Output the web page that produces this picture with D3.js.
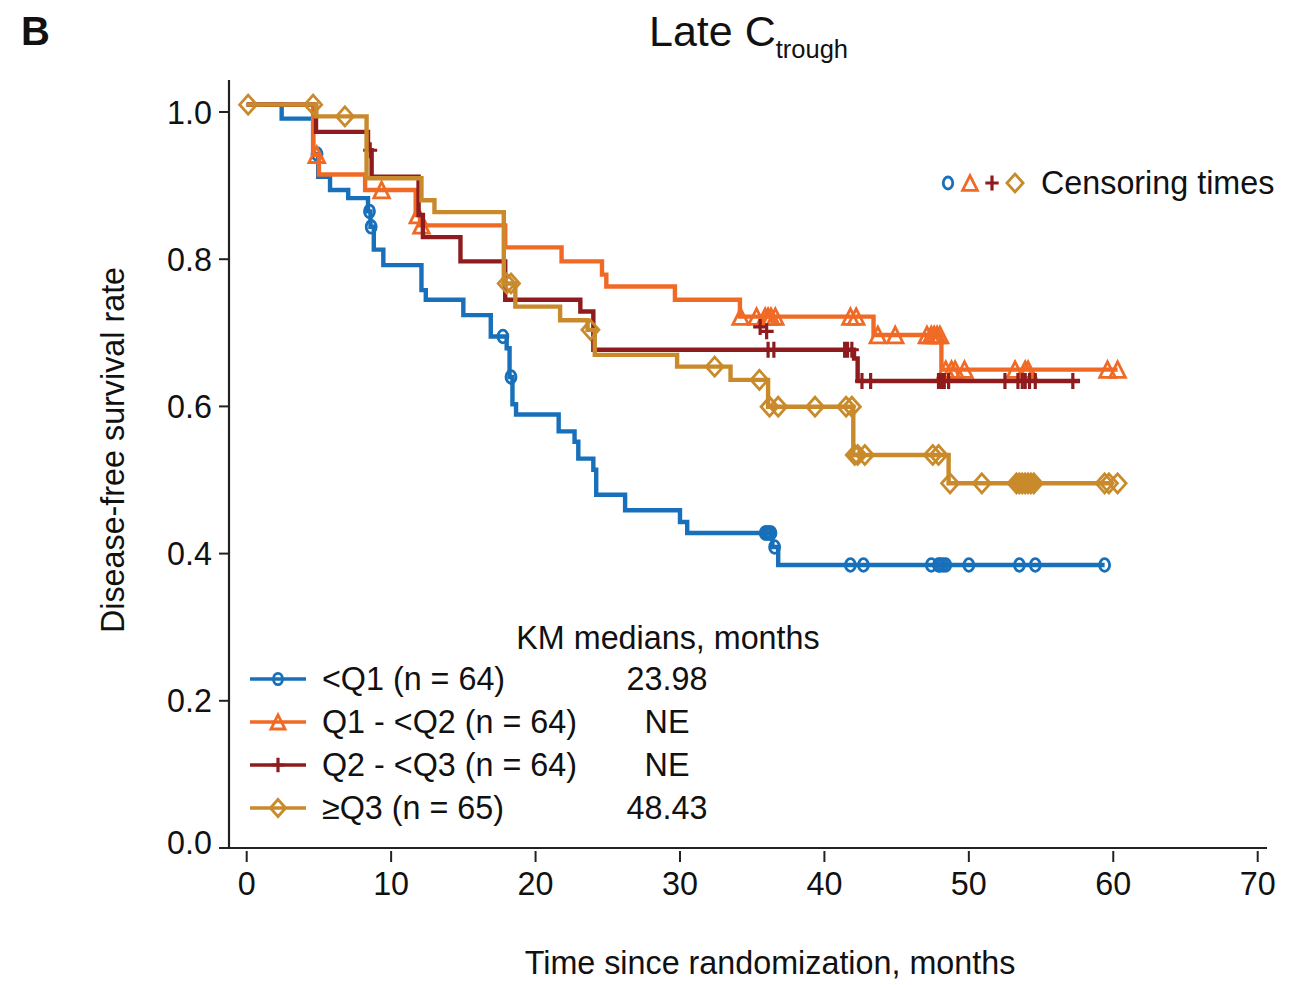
<!DOCTYPE html>
<html><head><meta charset="utf-8">
<script src="https://cdn.jsdelivr.net/npm/d3@7"></script>
<style>body{margin:0;background:#fff;} svg{display:block;} text{font-family:"Liberation Sans",Arial,sans-serif;fill:#111;}</style>
</head><body>
<svg id="chart" width="1302" height="985"></svg>
<script>
// ---- data ----
const xTicks = [0, 10, 20, 30, 40, 50, 60, 70];
const yTicks = [0.0, 0.2, 0.4, 0.6, 0.8, 1.0];
const seriesNames = ["<Q1 (n = 64)", "Q1 - <Q2 (n = 64)", "Q2 - <Q3 (n = 64)", "\u2265Q3 (n = 65)"];
const kmMedians = ["23.98", "NE", "NE", "48.43"];
const colors = ["#1770b9", "#f06a26", "#8e1b1e", "#c98a2b"];
const markerTypes = ["circle", "triangle", "plus", "diamond"];

// <Q1
const q1Times = [0, 2.42, 4.6, 4.95, 5.77, 7.03, 8.4, 8.57, 8.8, 9.46, 12.1, 12.4, 15.0, 16.9, 18.0, 18.2, 18.4, 18.65, 21.6, 22.7, 22.96, 24.0, 24.2, 26.2, 30.0, 30.5, 36.4, 36.8];
const q1Surv  = [1.01, 0.991, 0.943, 0.912, 0.894, 0.883, 0.865, 0.844, 0.813, 0.792, 0.758, 0.745, 0.724, 0.695, 0.679, 0.640, 0.603, 0.589, 0.566, 0.552, 0.529, 0.514, 0.480, 0.459, 0.443, 0.428, 0.409, 0.3845];
const q1End = 59.4;
const q1Censor = [4.87, 8.5, 8.62, 17.74, 18.3, 35.9, 36.0, 36.1, 36.2, 36.3, 36.55, 41.8, 42.7, 47.4, 47.9, 48.0, 48.2, 48.4, 50.0, 53.5, 54.6, 59.4];

// Q1 - <Q2
const q2Times = [0, 4.6, 5.0, 8.2, 11.7, 12.0, 17.9, 21.8, 24.6, 24.9, 29.65, 34.15, 43.4, 48.1];
const q2Surv  = [1.01, 0.942, 0.915, 0.894, 0.860, 0.846, 0.816, 0.797, 0.779, 0.763, 0.745, 0.722, 0.697, 0.650];
const q2End = 60.3;
const q2Censor = [4.85, 9.34, 11.85, 12.1, 34.2, 35.3, 35.9, 36.1, 36.3, 36.6, 41.8, 42.2, 43.7, 44.9, 47.1, 47.4, 47.6, 47.8, 48.0, 48.4, 48.8, 49.05, 49.7, 53.2, 53.9, 54.1, 59.6, 60.3];

// Q2 - <Q3
const q3Times = [0, 4.8, 8.4, 8.65, 11.9, 12.2, 14.8, 17.9, 23.1, 24.0, 42.05, 42.3];
const q3Surv  = [1.01, 0.973, 0.948, 0.912, 0.860, 0.830, 0.797, 0.745, 0.729, 0.677, 0.665, 0.6345];
const q3End = 57.7;
const q3Censor = [8.55, 36.1, 36.5, 41.4, 41.6, 41.9, 42.6, 43.2, 47.9, 48.1, 48.3, 48.6, 52.5, 53.4, 53.7, 53.9, 54.2, 54.6, 57.2];
const q3ExtraMarkTimes = [35.55, 36.0];
const q3ExtraMarkSurv  = [0.708, 0.702];

// >=Q3
const q4Times = [0, 4.8, 8.3, 12.1, 13.0, 17.8, 18.6, 21.7, 23.6, 24.1, 29.8, 33.5, 36.1, 42.0, 48.6];
const q4Surv  = [1.01, 0.994, 0.910, 0.880, 0.864, 0.767, 0.7355, 0.717, 0.704, 0.670, 0.654, 0.636, 0.5996, 0.534, 0.4955];
const q4End = 60.0;
const q4Censor = [0.1, 4.6, 6.8, 18.0, 18.3, 23.8, 32.4, 35.5, 36.2, 36.8, 39.35, 41.5, 41.9, 42.1, 42.3, 42.8, 47.5, 47.9, 48.7, 50.9, 53.3, 53.5, 53.7, 53.9, 54.1, 54.3, 54.5, 59.4, 59.7, 60.3];

const series = [
  {times: q1Times, surv: q1Surv, end: q1End, censor: q1Censor},
  {times: q2Times, surv: q2Surv, end: q2End, censor: q2Censor},
  {times: q3Times, surv: q3Surv, end: q3End, censor: q3Censor},
  {times: q4Times, surv: q4Surv, end: q4End, censor: q4Censor}
];

// ---- layout ----
const svg = d3.select("#chart");
const FONT = 32.3;
const x = d3.scaleLinear().domain([0, 70]).range([246.7, 1257.7]);
const y = d3.scaleLinear().domain([0, 1]).range([848, 112]);
const axisX0 = 229, axisY0 = 848;

// axes
svg.append("line").attr("x1", axisX0).attr("x2", axisX0).attr("y1", 80).attr("y2", axisY0 + 1)
  .attr("stroke", "#222").attr("stroke-width", 2.2);
svg.append("line").attr("x1", axisX0 - 1).attr("x2", 1267).attr("y1", axisY0).attr("y2", axisY0)
  .attr("stroke", "#222").attr("stroke-width", 2.2);

const gx = svg.append("g");
xTicks.forEach(t => {
  gx.append("line").attr("x1", x(t)).attr("x2", x(t)).attr("y1", axisY0 + 3).attr("y2", axisY0 + 14)
    .attr("stroke", "#222").attr("stroke-width", 2);
  gx.append("text").attr("x", x(t)).attr("y", 895).attr("text-anchor", "middle")
    .attr("font-size", FONT).text(d3.format("d")(t));
});
const gy = svg.append("g");
yTicks.forEach(v => {
  gy.append("line").attr("x1", axisX0 - 10).attr("x2", axisX0).attr("y1", y(v)).attr("y2", y(v))
    .attr("stroke", "#222").attr("stroke-width", 2);
  gy.append("text").attr("x", 212).attr("y", y(v) + 11.5 - (v === 0 ? 6 : 0)).attr("text-anchor", "end")
    .attr("font-size", FONT).text(d3.format(".1f")(v));
});

// axis titles
svg.append("text").attr("transform", "translate(124,450) rotate(-90)").attr("text-anchor", "middle")
  .attr("font-size", FONT).text("Disease-free survival rate");
svg.append("text").attr("x", 770).attr("y", 974).attr("text-anchor", "middle")
  .attr("font-size", FONT).text("Time since randomization, months");

// title + panel letter
const title = svg.append("text").attr("x", 649).attr("y", 46).attr("font-size", 43);
title.append("tspan").text("Late C");
title.append("tspan").attr("font-size", 25.5).attr("dy", 12).text("trough");
svg.append("text").attr("x", 21).attr("y", 45).attr("font-size", 40).attr("font-weight", "bold").text("B");

// marker drawing
function drawMarker(g, type, cx, cy, color, scale) {
  const s = scale || 1;
  if (type === "circle") {
    g.append("ellipse").attr("cx", cx).attr("cy", cy).attr("rx", 5 * s).attr("ry", 6.3 * s)
      .attr("fill", "none").attr("stroke", color).attr("stroke-width", 2.8);
  } else if (type === "triangle") {
    const w = 7.8 * s, h = 7.8 * s;
    g.append("path").attr("d", `M${cx},${cy - h}L${cx + w},${cy + h}L${cx - w},${cy + h}Z`)
      .attr("fill", "none").attr("stroke", color).attr("stroke-width", 2.8).attr("stroke-linejoin", "miter");
  } else if (type === "plus") {
    g.append("path").attr("d", `M${cx},${cy - 8 * s}V${cy + 8 * s}M${cx - 7 * s},${cy}H${cx + 7 * s}`)
      .attr("fill", "none").attr("stroke", color).attr("stroke-width", 3.2);
  } else if (type === "diamond") {
    const w = 8.5 * s, h = 9.5 * s;
    g.append("path").attr("d", `M${cx},${cy - h}L${cx + w},${cy}L${cx},${cy + h}L${cx - w},${cy}Z`)
      .attr("fill", "none").attr("stroke", color).attr("stroke-width", 2.8);
  }
}

function survAt(sr, t) {
  const i = d3.bisectRight(sr.times, t) - 1;
  return sr.surv[Math.max(0, i)];
}

const line = d3.line().x(d => x(d[0])).y(d => y(d[1])).curve(d3.curveStepAfter);
const plot = svg.append("g");
series.forEach((sr, k) => {
  const pts = sr.times.map((t, i) => [t, sr.surv[i]]);
  pts.push([sr.end, sr.surv[sr.surv.length - 1]]);
  plot.append("path").datum(pts).attr("d", line).attr("fill", "none")
    .attr("stroke", colors[k]).attr("stroke-width", 4.4);
  const mg = plot.append("g");
  sr.censor.forEach(t => drawMarker(mg, markerTypes[k], x(t), y(survAt(sr, t)), colors[k]));
  if (k === 2) {
    q3ExtraMarkTimes.forEach((t, i) => drawMarker(mg, "plus", x(t), y(q3ExtraMarkSurv[i]), colors[k]));
  }
});

// censoring legend
const cl = svg.append("g");
[948, 970, 992, 1015].forEach((cx, k) => drawMarker(cl, markerTypes[k], cx, 183, colors[k], 0.95));
cl.append("text").attr("x", 1041).attr("y", 194).attr("font-size", FONT).text("Censoring times");

// series legend
const lg = svg.append("g");
lg.append("text").attr("x", 668).attr("y", 649).attr("text-anchor", "middle").attr("font-size", FONT)
  .text("KM medians, months");
seriesNames.forEach((name, k) => {
  const cy = 679 + k * 43;
  lg.append("line").attr("x1", 250).attr("x2", 306).attr("y1", cy).attr("y2", cy)
    .attr("stroke", colors[k]).attr("stroke-width", 3.4);
  drawMarker(lg, markerTypes[k], 278, cy, colors[k], 0.9);
  lg.append("text").attr("x", 322).attr("y", cy + 11).attr("font-size", FONT).text(name);
  lg.append("text").attr("x", 667).attr("y", cy + 11).attr("text-anchor", "middle").attr("font-size", FONT)
    .text(kmMedians[k]);
});
</script>
</body></html>
